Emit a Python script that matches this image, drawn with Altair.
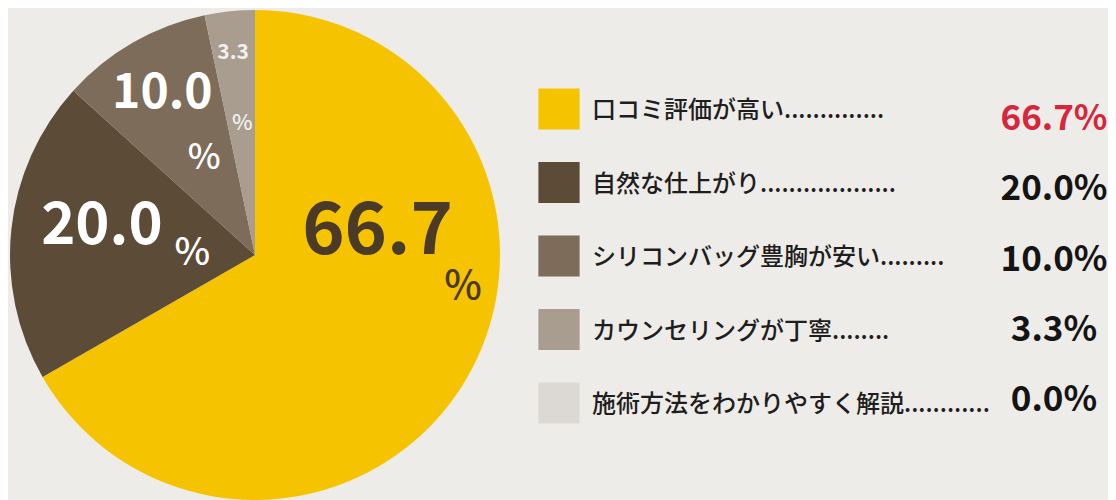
import altair as alt
import pandas as pd

categories = ["口コミ評価が高い", "自然な仕上がり", "シリコンバッグ豊胸が安い", "カウンセリングが丁寧", "施術方法をわかりやすく解説"]
values = [66.7, 20.0, 10.0, 3.3, 0.0]
dot_counts = [14, 19, 9, 8, 12]
colors = ["#F5C300", "#5C4B36", "#7D6C59", "#A99D90", "#DCD9D5"]
value_colors = ["#D5263B", "#141414", "#141414", "#141414", "#141414"]

df = pd.DataFrame({
    "idx": list(range(len(categories))),
    "cat": categories,
    "value": values,
    "label": [c + "." * n for c, n in zip(categories, dot_counts)],
    "vtext": [f"{v:.1f}%" for v in values],
    "vcolor": value_colors,
})

FONT = "Noto Sans CJK JP"
CX, CY = 247, 247

base = alt.Chart(df)

color_enc = alt.Color("cat:N", scale=alt.Scale(domain=categories, range=colors), legend=None)
theta_enc = alt.Theta("value:Q", stack=True)
order_enc = alt.Order("idx:Q")

pie = base.mark_arc(radius=245, stroke=None).encode(
    theta=theta_enc, order=order_enc, color=color_enc,
    x=alt.value(CX), y=alt.value(CY),
)

def pie_label(i, kind, r, dx, dy, size, color, weight):
    if kind == "num":
        expr = f"datum.idx == {i} ? format(datum.value, '.1f') : ''"
    else:
        expr = f"datum.idx == {i} ? '%' : ''"
    return base.transform_calculate(t=expr).mark_text(
        radius=r, dx=dx, dy=dy, fontSize=size, font=FONT, fontWeight=weight,
        color=color, align="center", baseline="middle",
    ).encode(
        theta=theta_enc, order=order_enc, text="t:N",
        x=alt.value(CX), y=alt.value(CY),
    )

labels = [
    pie_label(0, "num", 100, 36, -73, 72, "#4B3A26", "bold"),
    pie_label(0, "pct", 200, 35, -68, 40, "#4B3A26", 500),
    pie_label(1, "num", 156, 2, -11, 58, "#FFFFFF", "bold"),
    pie_label(1, "pct", 64, 1, 6, 38, "#FFFFFF", 500),
    pie_label(2, "num", 188, 1, 2, 48, "#FFFFFF", "bold"),
    pie_label(2, "pct", 110, 4, -2, 35, "#FFFFFF", 500),
    pie_label(3, "num", 202, -1, -1, 21, "#F2F0EC", "bold"),
    pie_label(3, "pct", 132, 1, -1, 22, "#F2F0EC", 500),
]

row_scale = alt.Scale(range=[101, 395], padding=0)
val_scale = alt.Scale(range=[111, 392], padding=0)

squares = base.mark_square(size=1700, opacity=1).encode(
    x=alt.value(551),
    y=alt.Y("idx:O", scale=row_scale, axis=None),
    color=color_enc,
)

legend_text = base.mark_text(
    align="left", baseline="middle", fontSize=24, font=FONT, fontWeight=500, color="#1E1E1E",
    dy=2,
).encode(
    x=alt.value(584),
    y=alt.Y("idx:O", scale=row_scale, axis=None),
    text="label:N",
)

value_text = base.mark_text(
    align="center", baseline="middle", fontSize=35, font=FONT, fontWeight="bold",
).encode(
    x=alt.value(1046),
    y=alt.Y("idx:O", scale=val_scale, axis=None),
    text="vtext:N",
    color=alt.Color("vcolor:N", scale=None),
)

chart = alt.layer(pie, *labels, squares, legend_text, value_text).resolve_scale(
    y="independent", color="independent"
).properties(
    width=1100, height=492, autosize="none", padding=0, background="#EEECE8",
).configure_view(stroke=None)

chart.save("out.html", embed_options={"renderer": "svg", "actions": False})
